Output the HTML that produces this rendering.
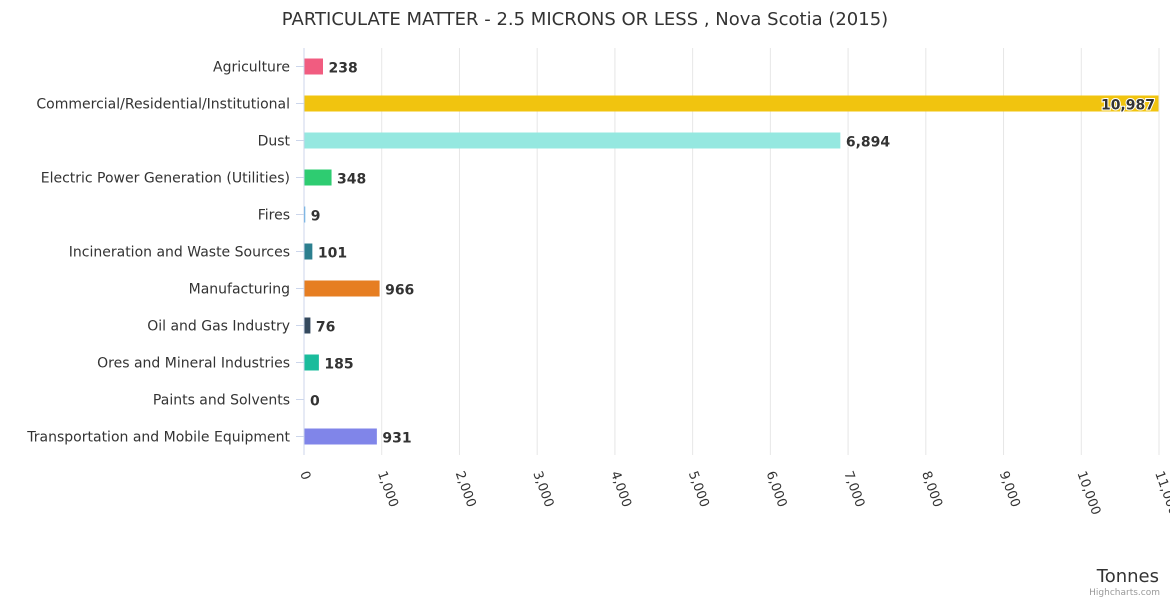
<!DOCTYPE html>
<html><head><meta charset="utf-8"><style>
body{margin:0;background:#fff;font-family:"Liberation Sans","DejaVu Sans",sans-serif}
svg text{font-family:"DejaVu Sans","Liberation Sans",sans-serif}
</style></head><body>
<svg id="chart" width="1170" height="600">
<text x="585" y="25" text-anchor="middle" font-size="18" fill="#333">PARTICULATE MATTER - 2.5 MICRONS OR LESS , Nova Scotia (2015)</text>
<g id="grid"></g><g id="bars"></g><g id="labels"></g>
<text x="1159" y="582" text-anchor="end" font-size="18" fill="#333">Tonnes</text>
<text x="1160" y="595" text-anchor="end" font-size="9" fill="#999">Highcharts.com</text>
</svg>
<script>
const categories=["Agriculture","Commercial/Residential/Institutional","Dust","Electric Power Generation (Utilities)","Fires","Incineration and Waste Sources","Manufacturing","Oil and Gas Industry","Ores and Mineral Industries","Paints and Solvents","Transportation and Mobile Equipment"];
const values=[238,10987,6894,348,9,101,966,76,185,0,931];
const colors=["#f15c80","#f1c40f","#95e8e0","#2ecc71","#3498db","#2c7f8f","#e67e22","#34495e","#1abc9c","#8e44ad","#8085e9"];
const ticks=[0,1000,2000,3000,4000,5000,6000,7000,8000,9000,10000,11000];
const NS="http://www.w3.org/2000/svg";
const x0=304,x1=1159,yTop=48,yBottom=455,xmax=11000;
const xs=v=>x0+(v/xmax)*(x1-x0);
const band=(yBottom-yTop)/categories.length;
const yc=i=>yTop+band*(i+0.5);
function mk(t,a,p){const e=document.createElementNS(NS,t);for(const k in a)e.setAttribute(k,a[k]);p.appendChild(e);return e;}
const grid=document.getElementById('grid'),bars=document.getElementById('bars'),labels=document.getElementById('labels');
ticks.forEach(t=>{
 const g=mk('line',{x1:xs(t),x2:xs(t),y1:yTop,y2:yBottom,stroke:t===0?'#ccd6eb':'#e6e6e6'},grid);
 
 
 const tx=mk('text',{x:0,y:0,'font-size':13,fill:'#333',transform:`translate(${xs(t)-4},${yBottom+18}) rotate(70)`},grid);
 tx.textContent=t.toLocaleString('en-US');
 
 
});
categories.forEach((c,i)=>{
 const y=yc(i);
 const tk=mk('line',{x1:x0-8,x2:x0,y1:y,y2:y,stroke:'#ccd6eb'},grid);
 
 
 const l=mk('text',{x:290,y:y+5,'text-anchor':'end','font-size':14,fill:'#333'},labels);
 l.textContent=c;
 
 
 const w=Math.max(xs(values[i])-x0,0);
 const r=mk('rect',{x:x0+0.5,y:y-8,width:w,height:16,fill:colors[i]},bars);
 
 
 const inside=xs(values[i])+60>1170;
 const v=mk('text',{x:inside?xs(values[i])-3:xs(values[i])+6,y:y+6,'text-anchor':inside?'end':'start','font-size':14,'font-weight':'bold',fill:'#333',stroke:'#fff','stroke-width':2,'paint-order':'stroke'},labels);
 v.textContent=values[i].toLocaleString('en-US');
 
 
});
</script>
</body></html>
